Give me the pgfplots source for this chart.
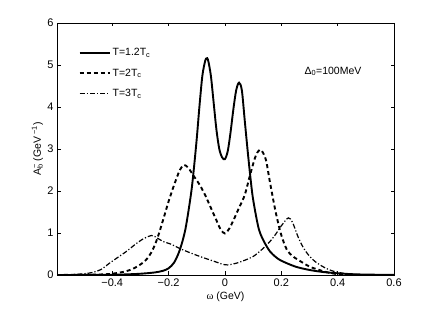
\documentclass[border=0pt]{standalone}
\usepackage{pgfplots}
\pgfplotsset{compat=1.18}
\usepackage{fontspec}
\setmainfont{Liberation Sans}
\newfontfamily\greekserif{Liberation Serif}
\begin{document}
\begin{tikzpicture}
\begin{axis}[
  at={(0pt,0pt)}, anchor=south west,
  width=337pt, height=252pt, scale only axis,
  xmin=-0.596, xmax=0.6, ymin=0, ymax=6,
  xtick={-0.4,-0.2,0,0.2,0.4,0.6},
  xticklabels={−0.4,−0.2,0,0.2,0.4,0.6},
  ytick={0,1,2,3,4,5,6},
  tick align=inside,
  major tick length=3.5pt,
  axis line style={line width=0.6pt},
  tick style={line width=0.5pt, black},
  /pgf/number format/assume math mode=true,
  ticklabel style={font=\fontsize{11}{13}\selectfont},
  xlabel={{\greekserif ω} (GeV)},
  ylabel={A\rlap{\textsuperscript{−}}\textsubscript{b}\ (GeV\textsuperscript{ −1})},
  label style={font=\fontsize{10.5}{12}\selectfont},
  xlabel style={at={(axis description cs:0.5,-0.085)}, anchor=center},
  ylabel style={at={(axis description cs:-0.058,0.5)}, anchor=center},
  legend image code/.code={\draw[#1] (0pt,0pt) -- (30pt,0pt);},
  legend style={at={(0.055,0.915)}, anchor=north west, draw=none, fill=none,
    font=\fontsize{10.5}{12}\selectfont, row sep=7.5pt,
    /tikz/every even column/.append style={column sep=2pt}},
  legend cell align=left,
]
\addplot[black, line width=1.9pt, smooth] coordinates {
(-0.596,0) (-0.5,0.002) (-0.4,0.005) (-0.35,0.015) (-0.3,0.03) (-0.25,0.06) (-0.22,0.1) (-0.2,0.16) (-0.18,0.3) (-0.16,0.6) (-0.14,1.1) (-0.12,1.95) (-0.11,2.55) (-0.10,3.25) (-0.09,4.05) (-0.08,4.75) (-0.07,5.1) (-0.065,5.16) (-0.06,5.12) (-0.05,4.75) (-0.04,4.1) (-0.03,3.45) (-0.02,3.0) (-0.01,2.8) (0,2.76) (0.01,2.95) (0.02,3.4) (0.03,3.95) (0.04,4.4) (0.05,4.58) (0.06,4.4) (0.07,3.7) (0.08,3.0) (0.09,2.35) (0.10,1.8) (0.12,1.1) (0.14,0.78) (0.16,0.56) (0.18,0.43) (0.2,0.34) (0.25,0.2) (0.3,0.12) (0.35,0.07) (0.4,0.04) (0.45,0.02) (0.5,0.01) (0.6,0.002)
};
\addlegendentry{T=1.2T\textsubscript{c}}
\addplot[black, line width=1.9pt, dash pattern=on 4pt off 3pt, smooth] coordinates {
(-0.596,0) (-0.5,0.005) (-0.45,0.01) (-0.4,0.03) (-0.35,0.09) (-0.32,0.17) (-0.3,0.25) (-0.28,0.36) (-0.26,0.55) (-0.24,0.87) (-0.22,1.3) (-0.2,1.75) (-0.18,2.15) (-0.16,2.5) (-0.145,2.62) (-0.13,2.55) (-0.11,2.35) (-0.09,2.15) (-0.07,1.9) (-0.05,1.6) (-0.03,1.3) (-0.015,1.08) (0,0.99) (0.015,1.1) (0.03,1.3) (0.05,1.6) (0.07,1.9) (0.09,2.4) (0.11,2.85) (0.127,2.98) (0.145,2.75) (0.16,2.2) (0.18,1.5) (0.2,0.95) (0.22,0.6) (0.24,0.45) (0.26,0.36) (0.3,0.2) (0.33,0.13) (0.36,0.07) (0.4,0.02) (0.45,0.005) (0.5,0) (0.6,0)
};
\addlegendentry{T=2T\textsubscript{c}}
\addplot[black, line width=1.2pt, dash pattern=on 5pt off 2pt on 1.2pt off 2pt, smooth] coordinates {
(-0.596,0) (-0.55,0.005) (-0.5,0.03) (-0.47,0.06) (-0.44,0.13) (-0.41,0.28) (-0.38,0.42) (-0.35,0.56) (-0.32,0.72) (-0.29,0.86) (-0.26,0.94) (-0.24,0.88) (-0.22,0.8) (-0.19,0.73) (-0.16,0.63) (-0.12,0.52) (-0.08,0.42) (-0.04,0.33) (-0.01,0.26) (0.01,0.24) (0.04,0.28) (0.07,0.35) (0.1,0.44) (0.13,0.6) (0.16,0.8) (0.18,0.97) (0.2,1.17) (0.225,1.36) (0.24,1.25) (0.26,0.9) (0.28,0.63) (0.3,0.45) (0.32,0.32) (0.35,0.19) (0.38,0.1) (0.42,0.04) (0.46,0.01) (0.5,0) (0.6,0)
};
\addlegendentry{T=3T\textsubscript{c}}
\node[anchor=west, font=\fontsize{10.5}{12}\selectfont] at (axis cs:0.27,4.85) {Δ\textsubscript{0}=100MeV};
\end{axis}
\path[use as bounding box] (-57pt,-35pt) rectangle (379pt,275pt);
\end{tikzpicture}
\end{document}
